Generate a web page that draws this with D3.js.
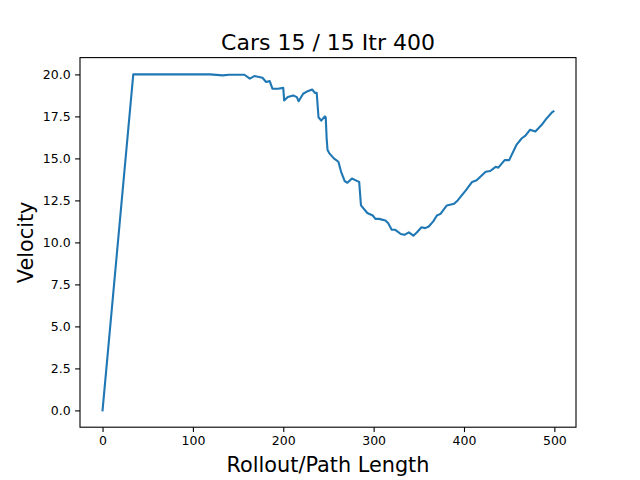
<!DOCTYPE html>
<html>
<head>
<meta charset="utf-8">
<script src="https://cdn.jsdelivr.net/npm/d3@7"></script>
<style>
  body { margin: 0; background: #fff; }
  svg { display: block; font-family: "DejaVu Sans", sans-serif; }
</style>
</head>
<body>
<svg id="chart" width="640" height="480"></svg>
<script>
// rollout step (x) and velocity (y)
const steps = [0, 34, 119, 126, 133, 140, 157, 163, 168, 177, 181, 185, 188, 194, 200, 201, 205, 211, 215, 217, 222, 227, 232, 235, 237, 239, 242, 246, 247, 248, 249, 251, 256, 261, 264, 268, 271, 276, 282, 284, 286, 293, 299, 302, 306, 313, 316, 320, 324, 330, 334, 339, 344, 348, 353, 357, 361, 366, 370, 374, 381, 389, 393, 402, 409, 414, 424, 429, 435, 438, 445, 450, 458, 464, 468, 473, 479, 486, 491, 497, 499];
const velocity = [0, 20, 20, 19.97, 19.94, 19.98, 19.98, 19.75, 19.9, 19.8, 19.55, 19.6, 19.15, 19.15, 19.2, 18.45, 18.65, 18.75, 18.65, 18.4, 18.85, 19.0, 19.1, 18.9, 18.9, 17.45, 17.25, 17.5, 17.45, 16.2, 15.5, 15.3, 15.0, 14.8, 14.2, 13.65, 13.55, 13.8, 13.65, 13.6, 12.2, 11.75, 11.6, 11.4, 11.4, 11.3, 11.15, 10.75, 10.75, 10.5, 10.45, 10.6, 10.4, 10.6, 10.9, 10.85, 10.95, 11.25, 11.6, 11.7, 12.2, 12.3, 12.5, 13.1, 13.6, 13.7, 14.2, 14.25, 14.5, 14.45, 14.9, 14.9, 15.8, 16.2, 16.35, 16.7, 16.6, 17.0, 17.35, 17.72, 17.8];
const xTicks = [0, 100, 200, 300, 400, 500];
const yTicks = [0, 2.5, 5, 7.5, 10, 12.5, 15, 17.5, 20];
const title = "Cars 15 / 15 Itr 400";
const xLabel = "Rollout/Path Length";
const yLabel = "Velocity";

const svg = d3.select("#chart");
const plotL = 80, plotR = 576, plotT = 57.6, plotB = 427.2;

const x = d3.scaleLinear().domain([-24.95, 523.95]).range([plotL, plotR]);
const y = d3.scaleLinear().domain([-1, 21]).range([plotB, plotT]);

const pts = steps.map((s, i) => [s, velocity[i]]);

svg.append("path")
  .datum(pts)
  .attr("fill", "none")
  .attr("stroke", "#1f77b4")
  .attr("stroke-width", 2.1)
  .attr("stroke-linejoin", "round")
  .attr("stroke-linecap", "square")
  .attr("d", d3.line().x(d => x(d[0])).y(d => y(d[1])));

const xAxis = svg.append("g")
  .attr("transform", `translate(0,${plotB})`)
  .call(d3.axisBottom(x).tickValues(xTicks).tickSize(4.9).tickPadding(4.4).tickFormat(d3.format("d")));
const yAxis = svg.append("g")
  .attr("transform", `translate(${plotL},0)`)
  .call(d3.axisLeft(y).tickValues(yTicks).tickSize(4.9).tickPadding(4.4).tickFormat(d3.format(".1f")));

[xAxis, yAxis].forEach(g => {
  g.select(".domain").remove();
  g.selectAll(".tick line").attr("stroke", "#000").attr("stroke-width", 1.1);
  g.selectAll(".tick text")
    .attr("fill", "#000")
    .style("font-size", "12.5px")
    .style("font-family", "DejaVu Sans");
});

// frame
svg.append("rect")
  .attr("x", plotL).attr("y", plotT)
  .attr("width", plotR - plotL).attr("height", plotB - plotT)
  .attr("fill", "none").attr("stroke", "#000").attr("stroke-width", 1.1);

svg.append("text")
  .attr("x", (plotL + plotR) / 2).attr("y", 50)
  .attr("text-anchor", "middle")
  .style("font-size", "22px")
  .text(title);

svg.append("text")
  .attr("x", (plotL + plotR) / 2).attr("y", 472)
  .attr("text-anchor", "middle")
  .style("font-size", "20.8px")
  .text(xLabel);

svg.append("text")
  .attr("transform", `translate(33,${(plotT + plotB) / 2}) rotate(-90)`)
  .attr("text-anchor", "middle")
  .style("font-size", "20.8px")
  .text(yLabel);
</script>
</body>
</html>
